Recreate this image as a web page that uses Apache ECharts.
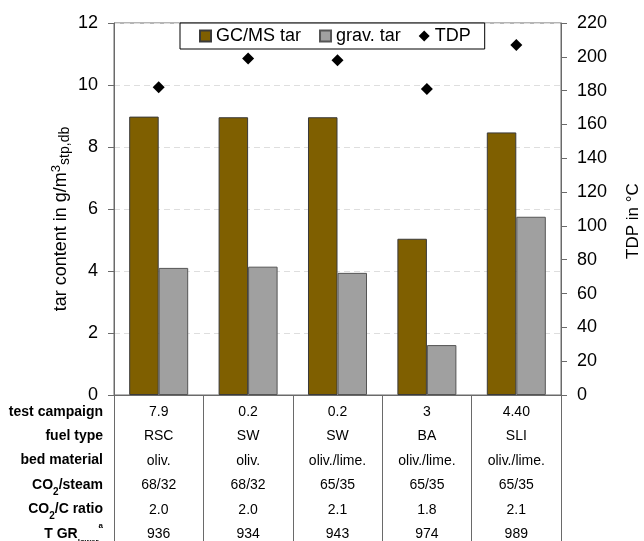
<!DOCTYPE html>
<html><head><meta charset="utf-8">
<script src="https://cdn.jsdelivr.net/npm/echarts@6/dist/echarts.min.js"></script>
<style>html,body{margin:0;padding:0;background:#fff}#c{width:644px;height:541px}</style>
</head><body><div id="c"></div>
<script>
const categories = ['7.9 RSC', '0.2 SW oliv.', '0.2 SW oliv./lime.', '3 BA', '4.40 SLI'];
const gcmsTar = [8.98, 8.96, 8.96, 5.04, 8.47];
const gravTar = [4.10, 4.14, 3.94, 1.61, 5.75];
const tdp = [182, 199, 198, 181, 207];
const testCampaign = ['7.9', '0.2', '0.2', '3', '4.40'];
const fuelType = ['RSC', 'SW', 'SW', 'BA', 'SLI'];
const bedMaterial = ['oliv.', 'oliv.', 'oliv./lime.', 'oliv./lime.', 'oliv./lime.'];
const co2Steam = ['68/32', '68/32', '65/35', '65/35', '65/35'];
const co2CRatio = ['2.0', '2.0', '2.1', '1.8', '2.1'];
const tGrLower = ['936', '934', '943', '974', '989'];
const leftTicks = [0, 2, 4, 6, 8, 10, 12];
const rightTicks = [0, 20, 40, 60, 80, 100, 120, 140, 160, 180, 200, 220];

const FONT = '"Liberation Sans", Arial, sans-serif';
const LH = 24.4;
const chart = echarts.init(document.getElementById('c'));
chart.setOption({
  animation: false,
  textStyle: { fontFamily: FONT },
  grid: { left: 114, right: 83, top: 23, bottom: 146, show: true, borderColor: '#6a6a6a', borderWidth: 1, outerBoundsMode: 'none', containLabel: false },
  legend: {
    left: 180, top: 23,
    padding: [4, 14, 4, 19],
    borderColor: '#000', borderWidth: 1,
    backgroundColor: '#fff',
    itemWidth: 11, itemHeight: 11, itemGap: 18,
    textStyle: { fontSize: 18, color: '#000', fontFamily: FONT },
    data: [
      { name: 'GC/MS tar', icon: 'rect' },
      { name: 'grav. tar', icon: 'rect' },
      { name: 'TDP', icon: 'diamond' }
    ]
  },
  xAxis: {
    type: 'category',
    data: categories,
    axisLine: { lineStyle: { color: '#6a6a6a' } },
    axisTick: { show: true, length: 150, interval: 0, lineStyle: { color: '#6a6a6a' } },
    axisLabel: {
      interval: 0, margin: 5,
      formatter: function (v, i) {
        return ['{v|' + testCampaign[i] + '}', '{v|' + fuelType[i] + '}', '{v|' + bedMaterial[i] + '}',
          '{v|' + co2Steam[i] + '}', '{v|' + co2CRatio[i] + '}', '{v|' + tGrLower[i] + '}'].join('\n');
      },
      rich: { v: { fontSize: 14, lineHeight: LH, color: '#000', fontFamily: FONT } }
    }
  },
  yAxis: [
    {
      type: 'value', min: 0, max: 12, interval: 2,
      name: '{n|tar content in g/m}{sup|3}{sub|stp,db}',
      nameLocation: 'middle', nameRotate: 90, nameGap: 42, nameMoveOverlap: false,
      nameTextStyle: {
        padding: [0, 20, 0, 0],
        rich: {
          n: { fontSize: 18, color: '#000', fontFamily: FONT, lineHeight: 22 },
          sup: { fontSize: 13, color: '#000', fontFamily: FONT, lineHeight: 17, verticalAlign: 'top' },
          sub: { fontSize: 14, color: '#000', fontFamily: FONT, lineHeight: 15, verticalAlign: 'bottom' }
        }
      },
      axisLine: { show: true, lineStyle: { color: '#6a6a6a' } },
      axisTick: { show: true, length: 6, lineStyle: { color: '#6a6a6a' } },
      axisLabel: { fontSize: 18, color: '#000', margin: 16, fontFamily: FONT },
      splitLine: { show: true, lineStyle: { color: '#dedede', type: [6, 4] } }
    },
    {
      type: 'value', min: 0, max: 220, interval: 20, position: 'right',
      name: 'TDP in °C', nameLocation: 'middle', nameRotate: 90, nameGap: 64, nameMoveOverlap: false,
      nameTextStyle: { fontSize: 17, lineHeight: 17, color: '#000', fontFamily: FONT, padding: [0, 24, 0, 0] },
      axisLine: { show: true, lineStyle: { color: '#6a6a6a' } },
      axisTick: { show: true, length: 6, lineStyle: { color: '#6a6a6a' } },
      axisLabel: { fontSize: 18, color: '#000', margin: 16, fontFamily: FONT },
      splitLine: { show: false }
    }
  ],
  graphic: [{
    type: 'text', x: 103, y: 399.5,
    style: {
      text: ['{b|test campaign}', '{b|fuel type}', '{b|bed material}', '{b|CO}{s|2}{b|/steam}',
        '{b|CO}{s|2}{b|/C ratio}', '{b|T GR}{sl|lower}{p|a}'].join('\n'),
      align: 'right', verticalAlign: 'top',
      rich: {
        b: { fontSize: 14, fontWeight: 'bold', lineHeight: LH, fill: '#000', fontFamily: FONT },
        s: { fontSize: 10, fontWeight: 'bold', lineHeight: 18, verticalAlign: 'bottom', fill: '#000', fontFamily: FONT },
        sl: { fontSize: 8, fontWeight: 'bold', lineHeight: 17, verticalAlign: 'bottom', fill: '#000', fontFamily: FONT },
        p: { fontSize: 8, fontWeight: 'bold', lineHeight: 18, verticalAlign: 'top', fill: '#000', fontFamily: FONT }
      }
    }
  }],
  series: [
    {
      name: 'GC/MS tar', type: 'bar', yAxisIndex: 0, data: gcmsTar,
      barWidth: '33%', barGap: '0%',
      itemStyle: { color: '#7f5f00', borderColor: '#3a3a3a', borderWidth: 1 }
    },
    {
      name: 'grav. tar', type: 'bar', yAxisIndex: 0, data: gravTar,
      barWidth: '33%', barGap: '0%',
      itemStyle: { color: '#a0a0a0', borderColor: '#555', borderWidth: 1 }
    },
    {
      name: 'TDP', type: 'scatter', yAxisIndex: 1, data: tdp,
      symbol: 'diamond', symbolSize: 12,
      itemStyle: { color: '#000', opacity: 1 }
    }
  ]
});
</script></body></html>
